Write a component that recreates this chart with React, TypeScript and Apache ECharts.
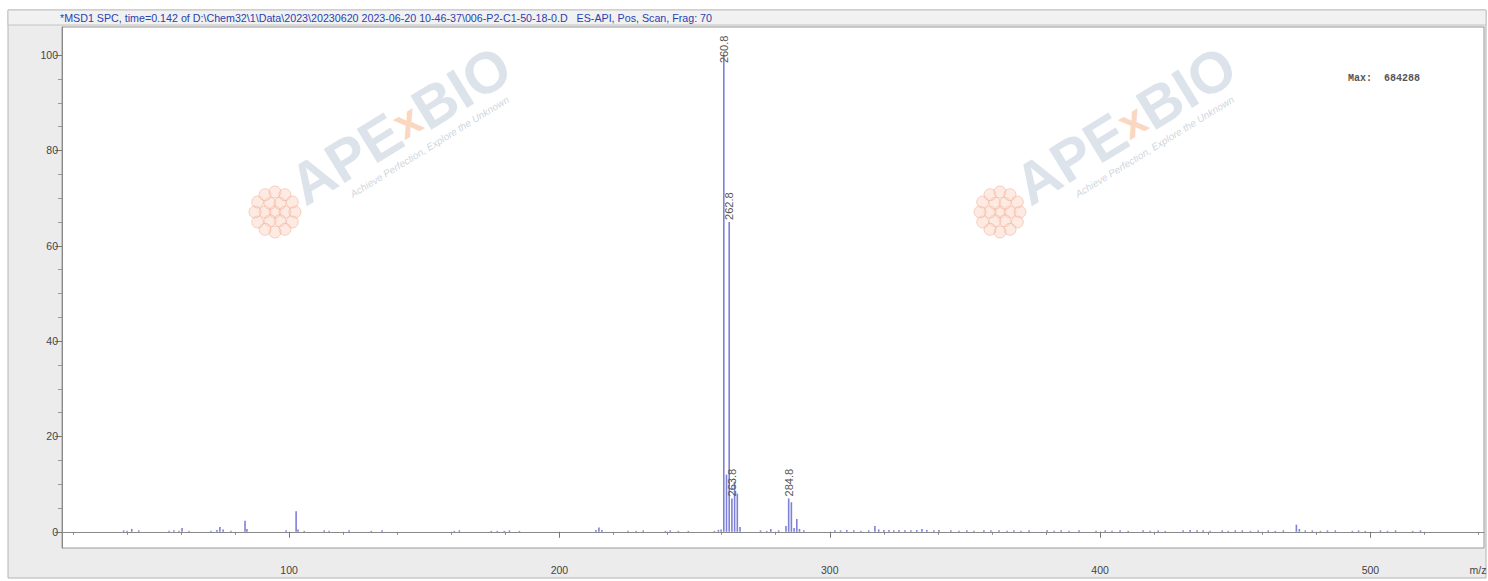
import React, { useEffect, useRef } from "react";
import * as echarts from "echarts";

// m/z of every stick and its relative abundance (%)
const mzValues = [
  38.8, 40.0, 41.8, 44.4, 55.6, 57.4, 59.3, 60.4, 63.0, 71.1, 73.3, 74.4, 75.6, 78.5,
  83.7, 84.4, 98.9, 102.6, 103.3, 105.6, 113.0, 114.8, 122.2, 130.4, 134.4, 161.1, 163.0,
  174.8, 177.0, 179.6, 181.5, 185.2, 213.5, 214.6, 215.7, 225.4, 228.4, 231.0, 239.2, 241.0,
  244.0, 247.7, 257.3, 258.8, 259.8, 260.8, 261.8, 262.8, 263.8, 264.8, 265.8, 266.8,
  274.4, 276.7, 278.2, 281.1, 283.8, 284.8, 285.8, 286.8, 287.8, 288.8, 290.4,
  301.9, 304.0, 306.3, 308.9, 311.5, 314.4, 316.7, 318.1, 320.0, 321.9, 323.7, 325.6,
  327.8, 330.0, 332.2, 334.1, 335.9, 338.5, 340.4, 344.8, 347.8, 350.7, 353.3, 357.0,
  359.6, 362.6, 365.6, 368.1, 370.7, 373.7, 380.4, 383.0, 385.6, 388.5, 392.2, 398.5,
  401.9, 404.4, 407.4, 410.4, 415.9, 418.5, 421.5, 424.1, 430.7, 433.3, 435.9, 438.1,
  440.7, 445.2, 447.4, 450.0, 452.6, 455.6, 458.5, 462.2, 464.8, 467.8, 472.6, 473.7,
  475.9, 478.5, 481.5, 484.1, 487.0, 493.3, 495.6, 498.1, 503.7, 506.3, 509.3, 515.6, 518.5,
];
const abundance = [
  0.3, 0.2, 0.6, 0.3, 0.2, 0.3, 0.2, 0.8, 0.2, 0.2, 0.4, 1.0, 0.5, 0.2,
  2.3, 0.6, 0.3, 4.3, 0.5, 0.2, 0.3, 0.2, 0.3, 0.2, 0.3, 0.2, 0.3,
  0.2, 0.2, 0.2, 0.3, 0.2, 0.4, 0.9, 0.4, 0.2, 0.2, 0.3, 0.2, 0.3,
  0.2, 0.2, 0.2, 0.4, 0.5, 100, 12, 65, 7, 10.5, 8, 1.0,
  0.3, 0.2, 0.6, 0.3, 1.2, 7.0, 6.2, 0.8, 2.7, 0.6, 0.3,
  0.3, 0.3, 0.4, 0.3, 0.2, 0.3, 1.2, 0.5, 0.4, 0.4, 0.3, 0.4,
  0.3, 0.3, 0.4, 0.6, 0.4, 0.3, 0.4, 0.3, 0.2, 0.3, 0.2, 0.3,
  0.3, 0.3, 0.2, 0.3, 0.2, 0.3, 0.3, 0.2, 0.3, 0.2, 0.3, 0.2,
  0.3, 0.2, 0.3, 0.2, 0.3, 0.2, 0.3, 0.2, 0.3, 0.4, 0.3, 0.3,
  0.2, 0.3, 0.2, 0.3, 0.3, 0.2, 0.3, 0.3, 0.2, 0.3, 1.5, 0.6,
  0.3, 0.3, 0.2, 0.3, 0.3, 0.2, 0.3, 0.2, 0.3, 0.2, 0.3, 0.2, 0.3,
];
const labeledPeaks = [260.8, 262.8, 263.8, 284.8];

const xMajorTicks = [100, 200, 300, 400, 500];
const xMinorTicks = [20, 40, 60, 80, 120, 140, 160, 180, 220, 240, 260, 280, 320, 340, 360, 380, 420, 440, 460, 480, 520, 540];
const yMajorTicks = [0, 20, 40, 60, 80, 100];
const yMinorTicks = [5, 10, 15, 25, 30, 35, 45, 50, 55, 65, 70, 75, 85, 90, 95];

const titleText =
  "*MSD1 SPC, time=0.142 of D:\\Chem32\\1\\Data\\2023\\20230620 2023-06-20 10-46-37\\006-P2-C1-50-18-0.D   ES-API, Pos, Scan, Frag: 70";
const maxText = "Max:  684288";

const FONT = "'Liberation Sans', Arial, sans-serif";

function watermark(cx: number, cy: number) {
  return {
    type: "group",
    x: cx,
    y: cy,
    rotation: 0.55,
    z: 20,
    silent: true,
    children: [
      {
        type: "text",
        x: 0,
        y: 0,
        style: {
          text: "{g|APE}{o|x}{g|BIO}",
          align: "center",
          verticalAlign: "middle",
          rich: {
            g: { fill: "rgba(175,188,204,0.42)", fontSize: 58, fontWeight: "bold", fontFamily: FONT },
            o: { fill: "rgba(245,165,115,0.45)", fontSize: 44, fontWeight: "bold", fontFamily: FONT },
          },
        },
      },
      {
        type: "text",
        x: 14,
        y: 34,
        style: {
          text: "Achieve Perfection, Explore the Unknown",
          align: "center",
          verticalAlign: "middle",
          fill: "rgba(165,175,190,0.55)",
          fontSize: 10,
          fontStyle: "italic",
          fontFamily: FONT,
        },
      },
    ],
  };
}

function flower(cx: number, cy: number) {
  const children: any[] = [];
  const rings = [
    { r: 0, n: 1 },
    { r: 10, n: 6 },
    { r: 20, n: 12 },
  ];
  rings.forEach((ring) => {
    for (let i = 0; i < ring.n; i++) {
      const a = (i / ring.n) * Math.PI * 2;
      children.push({
        type: "circle",
        shape: { cx: ring.r * Math.cos(a), cy: ring.r * Math.sin(a), r: 6 },
        style: { fill: "rgba(250,210,192,0.45)", stroke: "rgba(240,160,130,0.45)", lineWidth: 1 },
      });
    }
  });
  return { type: "group", x: cx, y: cy, z: 20, silent: true, children };
}

export default function App() {
  const ref = useRef<HTMLDivElement>(null);

  useEffect(() => {
    if (!ref.current) return;
    const chart = echarts.init(ref.current, undefined, { renderer: "svg" });

    const data = mzValues.map((mz, i) => {
      const item: any = { value: [mz, abundance[i]] };
      if (labeledPeaks.includes(mz)) {
        const top = abundance[i] > 95;
        item.label = {
          show: true,
          formatter: mz.toFixed(1),
          rotate: 90,
          position: top ? ["50%", 8] : "top",
          distance: 2,
          align: "left",
          verticalAlign: "middle",
          color: "#555",
          fontSize: 11,
          fontFamily: FONT,
        };
      }
      return item;
    });

    const yCommon = { type: "value", min: -3.4, max: 105.9, splitLine: { show: false } };
    const xCommon = { type: "value", min: 16, max: 542, splitLine: { show: false } };

    chart.setOption({
      animation: false,
      backgroundColor: "#ffffff",
      grid: {
        left: 62,
        right: 4,
        top: 27,
        bottom: 33,
        show: true,
        backgroundColor: "#ffffff",
        borderColor: "#9a9a9a",
        borderWidth: 1,
      },
      xAxis: [
        {
          ...xCommon,
          axisLine: { show: true, lineStyle: { color: "#8a8a8a", width: 1 } },
          axisTick: { show: true, length: 6, customValues: xMajorTicks, lineStyle: { color: "#777" } },
          axisLabel: {
            show: true,
            customValues: xMajorTicks,
            margin: 16,
            color: "#444",
            fontSize: 10.5,
            fontFamily: FONT,
          },
        },
        {
          ...xCommon,
          position: "bottom",
          axisLine: { show: false },
          axisTick: { show: true, length: 3, customValues: xMinorTicks, lineStyle: { color: "#888" } },
          axisLabel: { show: false },
        },
      ],
      yAxis: [
        {
          ...yCommon,
          axisLine: { show: true, lineStyle: { color: "#8a8a8a", width: 1 } },
          axisTick: { show: true, length: 7, customValues: yMajorTicks, lineStyle: { color: "#777" } },
          axisLabel: {
            show: true,
            customValues: yMajorTicks,
            margin: 4,
            color: "#444",
            fontSize: 10.5,
            fontFamily: FONT,
          },
        },
        {
          ...yCommon,
          position: "left",
          axisLine: { show: false },
          axisTick: { show: true, length: 4, customValues: yMinorTicks, lineStyle: { color: "#999" } },
          axisLabel: { show: false },
        },
      ],
      series: [
        {
          type: "bar",
          xAxisIndex: 0,
          yAxisIndex: 0,
          barWidth: 1.6,
          itemStyle: { color: "#7d81d8" },
          data,
          z: 5,
        },
      ],
      graphic: [
        {
          type: "rect",
          z: -10,
          silent: true,
          shape: { x: 8, y: 10, width: 1478, height: 568 },
          style: { fill: "#ececec", stroke: "#b4b4b4", lineWidth: 1 },
        },
        {
          type: "rect",
          z: -9,
          silent: true,
          shape: { x: 8, y: 10, width: 1478, height: 15 },
          style: { fill: "#f1f1f1", stroke: "#c4c4c4", lineWidth: 1 },
        },
        {
          type: "text",
          x: 60,
          y: 17.5,
          z: 10,
          silent: true,
          style: {
            text: titleText,
            fill: "#2a3fb0",
            fontSize: 10.7,
            fontFamily: FONT,
            align: "left",
            verticalAlign: "middle",
          },
        },
        {
          type: "text",
          x: 1348,
          y: 78,
          z: 10,
          silent: true,
          style: {
            text: maxText,
            fill: "#555",
            fontSize: 10,
            fontWeight: "bold",
            fontFamily: "'Liberation Mono', 'DejaVu Sans Mono', monospace",
            align: "left",
            verticalAlign: "middle",
          },
        },
        {
          type: "text",
          x: 1478,
          y: 570,
          z: 10,
          silent: true,
          style: {
            text: "m/z",
            fill: "#444",
            fontSize: 10.5,
            fontFamily: FONT,
            align: "center",
            verticalAlign: "middle",
          },
        },
        flower(275, 212),
        flower(1000, 212),
        watermark(400, 125),
        watermark(1125, 125),
      ],
    });

    return () => chart.dispose();
  }, []);

  return (
    <div
      ref={ref}
      style={{ position: "fixed", left: 0, top: 0, width: 1488, height: 581 }}
    />
  );
}
